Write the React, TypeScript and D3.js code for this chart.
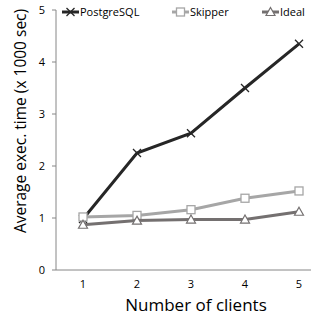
import { FC } from 'react';
import * as d3 from 'd3';

const clients = ['1', '2', '3', '4', '5'];
const postgres = [0.98, 2.25, 2.63, 3.5, 4.35];
const skipper = [1.02, 1.05, 1.16, 1.38, 1.52];
const ideal = [0.87, 0.95, 0.97, 0.97, 1.12];
const yTicks = [0, 1, 2, 3, 4, 5];

const width = 311;
const height = 316;
const font = '"Open Sans", "Liberation Sans", sans-serif';

const App: FC = () => {
  const x = d3.scaleBand().domain(clients).range([56, 326]);
  const y = d3.scaleLinear().domain([0, 5]).range([270, 10]);
  const cx = (c: string) => (x(c) as number) + x.bandwidth() / 2;

  const line = d3
    .line<number>()
    .x((_, i) => cx(clients[i]))
    .y((d) => y(d));

  const series = [
    { name: 'PostgreSQL', values: postgres, color: '#262626', marker: 'x', lx: 62 },
    { name: 'Skipper', values: skipper, color: '#a6a6a6', marker: 'square', lx: 172 },
    { name: 'Ideal', values: ideal, color: '#747070', marker: 'triangle', lx: 262 },
  ];

  const drawMarker = (m: string, px: number, py: number, color: string, key: string) => {
    if (m === 'x') {
      return (
        <path key={key} d={`M${px - 4},${py - 4}L${px + 4},${py + 4}M${px - 4},${py + 4}L${px + 4},${py - 4}`}
          stroke={color} strokeWidth={1.3} fill="none" />
      );
    }
    if (m === 'square') {
      return <rect key={key} x={px - 4} y={py - 4} width={8} height={8} fill="#fff" stroke={color} strokeWidth={1.3} />;
    }
    return (
      <path key={key} d={`M${px},${py - 4.5}L${px + 4.5},${py + 3.5}L${px - 4.5},${py + 3.5}Z`}
        fill="#fff" stroke={color} strokeWidth={1.2} />
    );
  };

  return (
    <svg width={width} height={height} style={{ position: 'absolute', left: 0, top: 0 }}>
      <rect width={width} height={height} fill="#fff" />
      {/* axes */}
      <line x1={56} x2={56} y1={10} y2={270} stroke="#868686" strokeWidth={1} />
      <line x1={56} x2={311} y1={270} y2={270} stroke="#868686" strokeWidth={1} />
      {yTicks.map((t) => (
        <g key={t}>
          <line x1={52} x2={56} y1={y(t)} y2={y(t)} stroke="#868686" />
          <text x={42} y={y(t)} dy="0.35em" textAnchor="middle" fontSize={11} fontFamily={font} fill="#000">
            {t}
          </text>
        </g>
      ))}
      {clients.map((c) => (
        <text key={c} x={cx(c)} y={288} textAnchor="middle" fontSize={11} fontFamily={font} fill="#000">
          {c}
        </text>
      ))}
      <text x={196} y={311} textAnchor="middle" fontSize={17} fontFamily={font} fill="#000">
        Number of clients
      </text>
      <text transform={`translate(26,121) rotate(-90)`} textAnchor="middle" fontSize={15.5} fontFamily={font} fill="#000">
        Average exec. time (x 1000 sec)
      </text>
      {/* series */}
      {series.map((s) => (
        <g key={s.name}>
          <path d={line(s.values) as string} fill="none" stroke={s.color} strokeWidth={3} />
          {s.values.map((v, i) => drawMarker(s.marker, cx(clients[i]), y(v), s.color, `${s.name}${i}`))}
        </g>
      ))}
      {/* legend */}
      {series.map((s) => (
        <g key={`lg${s.name}`}>
          <line x1={s.lx} x2={s.lx + 17} y1={12} y2={12} stroke={s.color} strokeWidth={3} />
          {drawMarker(s.marker, s.lx + 8.5, 12, s.color, `lm${s.name}`)}
          <text x={s.lx + 18} y={12} dy="0.35em" fontSize={11} fontFamily={font} fill="#000">
            {s.name}
          </text>
        </g>
      ))}
    </svg>
  );
};

export default App;
